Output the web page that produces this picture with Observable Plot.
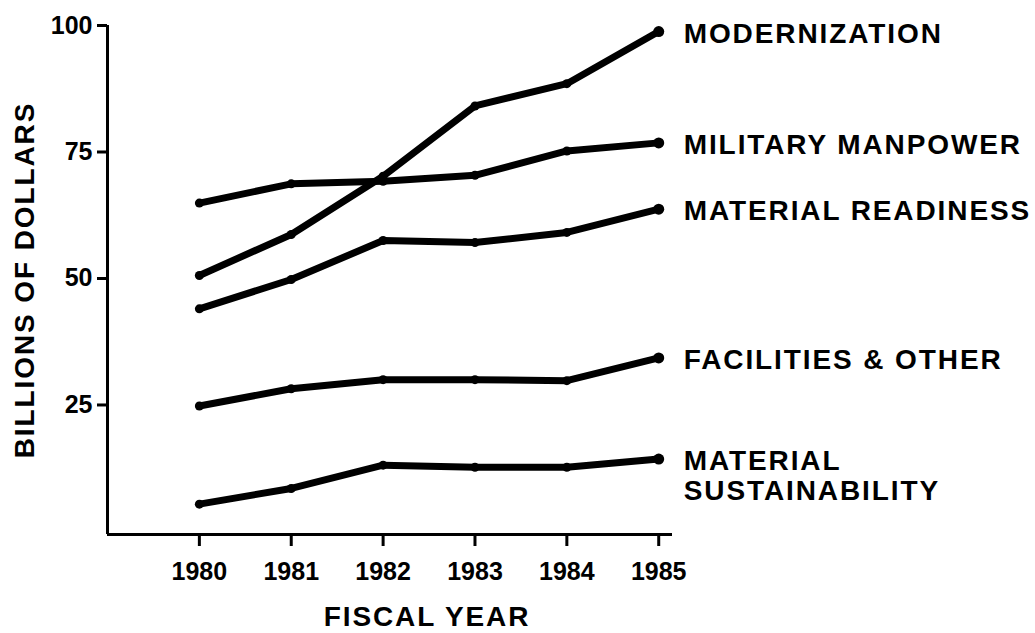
<!DOCTYPE html>
<html><head><meta charset="utf-8">
<script src="https://cdn.jsdelivr.net/npm/d3@7"></script>
<script src="https://cdn.jsdelivr.net/npm/@observablehq/plot@0.6"></script>
<style>
body{margin:0;background:#fff;}
#chart svg{display:block;}
</style></head><body><div id="chart"></div>
<script>
const years = [1980, 1981, 1982, 1983, 1984, 1985];
const modernization     = [50.6, 58.7, 70.2, 84.1, 88.5, 98.8];
const militaryManpower  = [64.9, 68.7, 69.2, 70.4, 75.2, 76.8];
const materialReadiness = [44.0, 49.8, 57.5, 57.1, 59.1, 63.7];
const facilitiesOther   = [24.8, 28.2, 30.0, 30.0, 29.8, 34.3];
const sustainability    = [5.4, 8.5, 13.1, 12.7, 12.7, 14.3];
const seriesNames = ["MODERNIZATION", "MILITARY MANPOWER", "MATERIAL READINESS", "FACILITIES & OTHER", "MATERIAL\nSUSTAINABILITY"];
const yTicks = [25, 50, 75, 100];
const xDomain = [1979, 1985.15];
const yDomain = [-0.6, 100];
const xTitle = ["FISCAL YEAR"];
const yTitle = ["BILLIONS OF DOLLARS"];

const seriesValues = [modernization, militaryManpower, materialReadiness, facilitiesOther, sustainability];
const data = seriesNames.flatMap((name, i) => years.map((year, j) => ({series: name, year, value: seriesValues[i][j]})));
const ends = data.filter(d => d.year === years[years.length - 1]);

const chart = Plot.plot({
  width: 1035, height: 633,
  marginLeft: 107, marginRight: 363, marginTop: 25, marginBottom: 99,
  x: {domain: xDomain},
  y: {domain: yDomain},
  style: {fontFamily: "'Liberation Sans', Arial, sans-serif", fontWeight: "bold", color: "#000", background: "#fff", fontSize: "25px"},
  marks: [
    Plot.ruleX([xDomain[0]], {stroke: "#000", strokeWidth: 3}),
    Plot.ruleY([yDomain[0]], {stroke: "#000", strokeWidth: 3}),
    Plot.axisY({ticks: yTicks, tickSize: 10, tickPadding: 5, label: null, fontSize: 25, strokeWidth: 3}),
    Plot.axisX({ticks: years, tickFormat: d => String(d), tickSize: 12, tickPadding: 16, label: null, fontSize: 25, strokeWidth: 3}),
    Plot.line(data, {x: "year", y: "value", z: "series", stroke: "#000", strokeWidth: 7, strokeLinecap: "round", strokeLinejoin: "round"}),
    Plot.dot(data, {x: "year", y: "value", r: 4.5, fill: "#000"}),
    Plot.dot(ends, {x: "year", y: "value", r: 5.5, fill: "#000"}),
    Plot.text(ends, {x: "year", y: "value", text: "series", textAnchor: "start", lineAnchor: "top", dx: 25, dy: -10, fontSize: 28, lineHeight: 1.07, fill: "#000"}),
    Plot.text(yTitle, {frameAnchor: "left", text: d => d, rotate: -90, textAnchor: "middle", lineAnchor: "middle", dx: -82, fontSize: 28, fill: "#000"}),
    Plot.text(xTitle, {frameAnchor: "bottom", text: d => d, textAnchor: "middle", lineAnchor: "middle", dx: 37, dy: 83, fontSize: 28, fill: "#000"})
  ]
});
const spaced = new Set([...seriesNames.map(s => s.replace("\n", "")), ...xTitle, ...yTitle]);
d3.select(chart).selectAll("text").each(function() {
  if (spaced.has(this.textContent)) d3.select(this).attr("letter-spacing", "1.9px");
});
document.getElementById("chart").appendChild(chart);
</script></body></html>
